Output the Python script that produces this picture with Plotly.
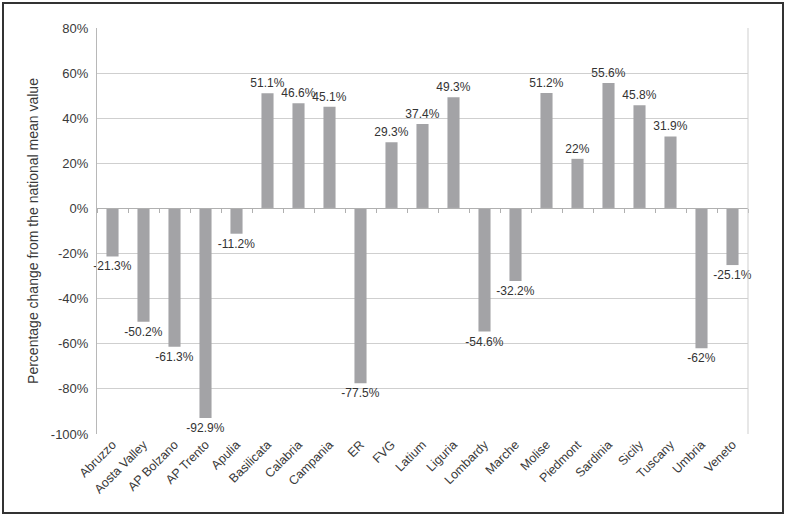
import plotly.graph_objects as go

regions = ["Abruzzo", "Aosta Valley", "AP Bolzano", "AP Trento", "Apulia", "Basilicata",
           "Calabria", "Campania", "ER", "FVG", "Latium", "Liguria", "Lombardy", "Marche",
           "Molise", "Piedmont", "Sardinia", "Sicily", "Tuscany", "Umbria", "Veneto"]
values = [-21.3, -50.2, -61.3, -92.9, -11.2, 51.1, 46.6, 45.1, -77.5, 29.3, 37.4, 49.3,
          -54.6, -32.2, 51.2, 22, 55.6, 45.8, 31.9, -62, -25.1]
y_ticks = [-100, -80, -60, -40, -20, 0, 20, 40, 60, 80]
y_tick_labels = [f"{t}%" for t in y_ticks]
labels = [f"{v:g}%" for v in values]

FONT = "Liberation Sans, Arial, sans-serif"

fig = go.Figure()
fig.add_trace(go.Bar(
    x=regions, y=values, text=labels, textposition="outside", constraintext="none",
    textfont=dict(family=FONT, size=12, color="#333333"),
    marker=dict(color="#a3a3a6", line=dict(width=0)),
    cliponaxis=False, xaxis="x", yaxis="y",
))
# invisible trace for the boundary-tick axis at zero
fig.add_trace(go.Bar(x=regions, y=[0] * len(regions), xaxis="x2", yaxis="y",
                     marker=dict(color="rgba(0,0,0,0)"), showlegend=False, hoverinfo="skip"))

fig.update_layout(
    width=787, height=516,
    margin=dict(l=97, r=39, t=28, b=82),
    paper_bgcolor="white", plot_bgcolor="white",
    showlegend=False, bargap=0.61, barmode="overlay",
    font=dict(family=FONT, size=13, color="#3a3a3a"),
    xaxis=dict(
        tickangle=-45, showgrid=False, showline=False, ticks="",
        tickfont=dict(family=FONT, size=12.5, color="#3a3a3a"),
        range=[-0.5, len(regions) - 0.5],
    ),
    xaxis2=dict(
        overlaying="x", anchor="free", position=100 / 180,
        showticklabels=False, showgrid=False, showline=True, linecolor="#b0b0b0",
        linewidth=1, ticks="outside", tickson="boundaries", ticklen=4,
        tickcolor="#b0b0b0", range=[-0.5, len(regions) - 0.5],
    ),
    yaxis=dict(
        range=[-100, 80], tickvals=y_ticks, ticktext=y_tick_labels,
        showgrid=True, gridcolor="#cfcfcf", gridwidth=1, zeroline=False,
        showline=True, linecolor="#b8b8b8", linewidth=1, mirror=False,
        ticks="", ticklabelstandoff=5,
        tickfont=dict(family=FONT, size=13, color="#3a3a3a"),
        title=dict(text="Percentage change from the national mean value",
                   font=dict(family=FONT, size=14, color="#3a3a3a"), standoff=8),
    ),
    shapes=[
        # right edge of plot area
        dict(type="line", xref="paper", yref="paper", x0=1, x1=1, y0=0, y1=1,
             line=dict(color="#cfcfcf", width=1)),
        # outer frame
        dict(type="rect", xref="paper", yref="paper",
             x0=(3 - 97) / 651, x1=(783 - 97) / 651,
             y0=(434 - 513) / 406, y1=(434 - 3) / 406,
             line=dict(color="#333333", width=2), fillcolor="rgba(0,0,0,0)", layer="below"),
    ],
)

fig.write_html("out.html", config={"displayModeBar": False},
               post_script="document.body.style.margin='0';")
